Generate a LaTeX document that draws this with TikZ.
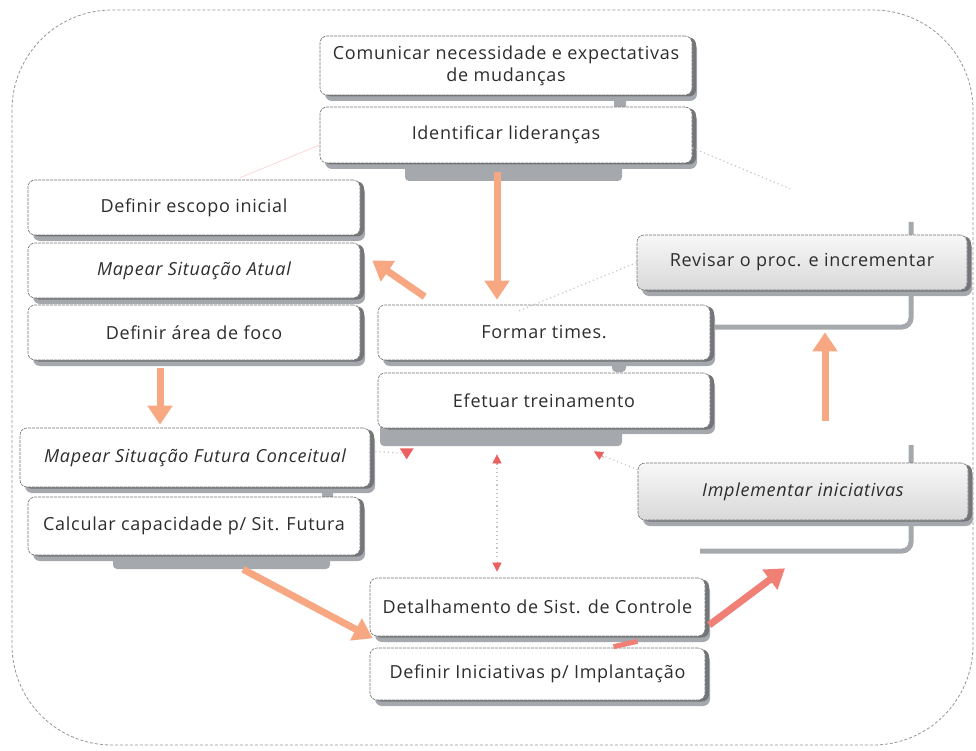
\documentclass[tikz,border=0pt]{standalone}
\usepackage{fontspec}
\setmainfont{Open Sans}[LetterSpace=4.0]
\usetikzlibrary{arrows.meta,shadows}

\definecolor{salmon}{RGB}{247,168,130}
\definecolor{pinkred}{RGB}{240,128,118}
\definecolor{tipred}{RGB}{236,96,96}
\definecolor{shade}{RGB}{165,169,173}
\definecolor{darkshade}{RGB}{115,117,120}
\definecolor{framegray}{RGB}{150,150,150}
\definecolor{txt}{RGB}{45,45,45}

\tikzset{
  stepbox/.style={draw=black!55, line width=0.6pt, dash pattern=on 3pt off 1pt,
    fill=white, rounded corners=7pt, align=center, text=txt,
    minimum width=332pt, minimum height=55pt, inner sep=2pt,
    font=\fontsize{18}{22}\selectfont,
    drop shadow={shadow xshift=5pt, shadow yshift=-6pt, fill=shade, opacity=1},
    drop shadow={shadow xshift=4pt, shadow yshift=-1.5pt, fill=darkshade, opacity=1}},
  greybox/.style={stepbox, top color=gray!6, bottom color=gray!30},
  tab/.style={fill=shade, rounded corners=4pt},
  tabline/.style={draw=shade, line width=5pt, rounded corners=9pt},
  bigarrow/.style={draw=salmon, line width=7pt, -{Triangle[width=24pt,length=19pt]}},
  dotline/.style={draw=gray!45, line width=1.2pt, dash pattern=on 1.2pt off 3pt},
  redtip/.style={draw=tipred, line width=0.5pt, -{Triangle[width=9pt,length=9pt]}},
  faint/.style={draw=red!20, line width=0.6pt}
}

\begin{document}
\begin{tikzpicture}[x=1pt,y=-1pt]
\useasboundingbox (0,0) rectangle (976,751);

% outer frame
\draw[framegray, line width=0.8pt, densely dashed, rounded corners=100pt]
  (12,10) rectangle (973,745);

% back tabs of the 3-D shadows
\fill[tab] (405,158) rectangle (622,181);
\fill[tab] (614,92) rectangle (626,110);
\fill[tab] (380,424) rectangle (622,446);
\fill[tab] (612,356) rectangle (626,372);
\fill[tab] (113,548) rectangle (330,569);
\fill[tab] (322,484) rectangle (333,501);
\draw[tabline] (911,222) -- (911,327) -- (715,327);
\draw[tabline] (911,445) -- (911,551) -- (700,551);

% process steps
\node[stepbox, minimum width=372pt, minimum height=59pt] (com) at (506,65.5)
  {Comunicar necessidade e expectativas\\de mudanças};
\node[stepbox, minimum width=372pt, minimum height=56pt] (idl) at (506,135) {Identificar lideranças};
\node[stepbox] (esc) at (194,207.5) {Definir escopo inicial};
\node[stepbox] (mat) at (194,270.5) {\itshape Mapear Situação Atual};
\node[stepbox] (afo) at (194,332.5) {Definir área de foco};
\node[stepbox, minimum width=350pt, minimum height=59pt] (msf) at (195,457.5) {\itshape Mapear Situação Futura Conceitual};
\node[stepbox, minimum height=58pt] (cal) at (194,526) {Calcular capacidade p/ Sit. Futura};
\node[stepbox] (frm) at (544,332.5) {Formar times.};
\node[stepbox] (eft) at (544,400.5) {Efetuar treinamento};
\node[greybox, minimum width=330pt] (rev) at (802,262.5) {Revisar o proc. e incrementar};
\node[greybox, minimum width=330pt, minimum height=57pt] (imp) at (803,491.5) {\itshape Implementar iniciativas};
\node[stepbox, minimum width=335pt, minimum height=52pt] (dfi) at (537.5,674) {Definir Iniciativas p/ Implantação};
\node[stepbox, minimum width=335pt, minimum height=58pt] (det) at (537.5,607) {Detalhamento de Sist. de Controle};

% faint links
\draw[faint] ([yshift=-10pt]idl.west) -- ([xshift=46pt,yshift=2pt]esc.north);
\draw[dotline] ([yshift=-13pt]idl.east) -- ([xshift=-12pt,yshift=46pt]rev.north);
\draw[dotline] (rev.west) -- ([xshift=-120pt,yshift=-7pt]rev.south west |- frm.north);

% dotted feedback links with small heads
\draw[dotline] ([xshift=5pt,yshift=6pt]msf.east) -- ([xshift=26pt,yshift=-25pt]eft.south west);
\fill[tipred] ([xshift=22pt,yshift=-20pt]eft.south west) -- ([xshift=36pt,yshift=-20pt]eft.south west)
  -- ([xshift=29pt,yshift=-31pt]eft.south west) -- cycle;
\draw[dotline] ([yshift=-7pt]imp.north west) -- ([xshift=55pt,yshift=-26pt]eft.south);
\draw[redtip] ([xshift=60pt,yshift=-29pt]eft.south) -- ([xshift=50pt,yshift=-23pt]eft.south);
\draw[dotline] ([xshift=-47pt,yshift=-35pt]eft.south) -- ([xshift=-40.5pt,yshift=18pt]det.north);
\draw[redtip] ([xshift=-47pt,yshift=-36pt]eft.south) -- ([xshift=-47pt,yshift=-26pt]eft.south);
\draw[redtip] ([xshift=-40.5pt,yshift=16pt]det.north) -- ([xshift=-40.5pt,yshift=6pt]det.north);

% main flow arrows
\draw[bigarrow] ([xshift=-9pt,yshift=-9pt]idl.south) -- ([xshift=-47pt,yshift=5pt]frm.north);
\draw[bigarrow] ([xshift=47pt,yshift=8pt]frm.north west) -- ([xshift=12pt,yshift=10pt]mat.east);
\draw[bigarrow] ([xshift=-34pt,yshift=-8pt]afo.south) -- ([xshift=-35pt,yshift=3pt]msf.north);
\draw[bigarrow] ([xshift=49pt,yshift=-14pt]cal.south) -- ([xshift=3pt,yshift=-2pt]det.south west);
\draw[bigarrow, draw=pinkred] ([xshift=4pt,yshift=-18pt]det.east) -- ([xshift=-18pt,yshift=-48pt]imp.south);
\draw[bigarrow] ([xshift=22pt,yshift=42pt]imp.north) -- ([xshift=23pt,yshift=-42pt]rev.south);
\draw[draw=pinkred, line width=5pt] ([xshift=76pt,yshift=1pt]dfi.north) -- ([xshift=100pt,yshift=-5pt]det.south);
\end{tikzpicture}
\end{document}
